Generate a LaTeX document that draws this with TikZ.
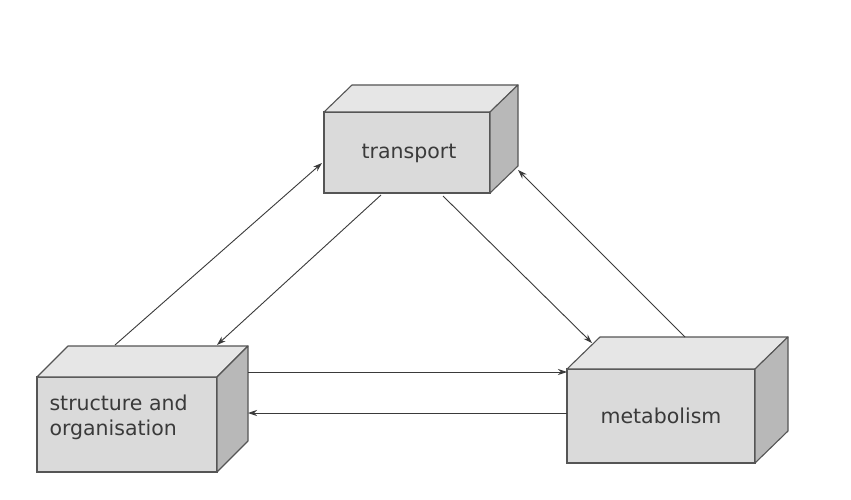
\documentclass[tikz,border=0pt]{standalone}
\usepackage{fontspec}
\setmainfont{DejaVu Sans}
\usetikzlibrary{arrows.meta,calc}
\definecolor{frontgrey}{HTML}{DADADA}
\definecolor{topgrey}{HTML}{E6E6E6}
\definecolor{sidegrey}{HTML}{B8B8B8}
\definecolor{edgegrey}{HTML}{555555}
\definecolor{inkgrey}{HTML}{3A3A3A}
\begin{document}
\begin{tikzpicture}[x=1pt,y=1pt,
  front/.style={draw=edgegrey, fill=frontgrey, line width=1.1pt, inner sep=0pt, outer sep=0pt, anchor=south west},
  topface/.style={draw=edgegrey, fill=topgrey, line width=1.1pt, line join=round},
  sideface/.style={draw=edgegrey, fill=sidegrey, line width=1.1pt, line join=round},
  label/.style={text=inkgrey, font=\fontsize{20.5}{25}\selectfont},
  flow/.style={draw=inkgrey, line width=0.9pt, -{Stealth[length=9pt,width=6pt]}}]
\useasboundingbox (0,0) rectangle (851,499);
\fill[white] (0,0) rectangle (851,499);

% transport block
\node[front, minimum width=166pt, minimum height=81pt] (tr) at (324,306) {};
\filldraw[topface] (tr.north west) -- ++(28,27) -- ++(166,0) -- (tr.north east) -- cycle;
\filldraw[sideface] (tr.north east) -- ++(28,27) -- ++(0,-81) -- (tr.south east) -- cycle;
\node[label] (trtext) at (409,346) {transport};

% structure and organisation block
\node[front, minimum width=180pt, minimum height=95pt] (st) at (37,27) {};
\filldraw[topface] (st.north west) -- ++(31,31) -- ++(180,0) -- (st.north east) -- cycle;
\filldraw[sideface] (st.north east) -- ++(31,31) -- ++(0,-95) -- (st.south east) -- cycle;
\node[label, align=left, anchor=west] (sttext) at (46,82) {structure and\\organisation};

% metabolism block
\node[front, minimum width=188pt, minimum height=94pt] (me) at (567,36) {};
\filldraw[topface] (me.north west) -- ++(33,32) -- ++(188,0) -- (me.north east) -- cycle;
\filldraw[sideface] (me.north east) -- ++(33,32) -- ++(0,-94) -- (me.south east) -- cycle;
\node[label] (metext) at (661,83) {metabolism};

% attachment points on the blocks
\coordinate (st-up)   at ($(st.north west)+(78,32)$);
\coordinate (st-in)   at ($(st.north west)+(180,32)$);
\coordinate (st-r1)   at ($(st.north east)+(31,5)$);
\coordinate (st-r2)   at ($(st.north east)+(31,-36)$);
\coordinate (tr-l)    at ($(tr.south west)+(-2,30)$);
\coordinate (tr-b1)   at ($(tr.south west)+(57,-2)$);
\coordinate (tr-b2)   at ($(tr.south west)+(119,-3)$);
\coordinate (tr-r)    at ($(tr.south east)+(28,23)$);
\coordinate (me-in)   at ($(me.north west)+(25,26)$);
\coordinate (me-up)   at ($(me.north west)+(118,32)$);
\coordinate (me-l1)   at ($(me.north west)+(0,-3)$);
\coordinate (me-l2)   at ($(me.north west)+(0,-44)$);

% exchanges between the blocks
\draw[flow] (st-up) -- (tr-l);
\draw[flow] (tr-b1) -- (st-in);
\draw[flow] (tr-b2) -- (me-in);
\draw[flow] (me-up) -- (tr-r);
\draw[flow] (st-r1) -- (me-l1);
\draw[flow] (me-l2) -- (st-r2);
\end{tikzpicture}
\end{document}
